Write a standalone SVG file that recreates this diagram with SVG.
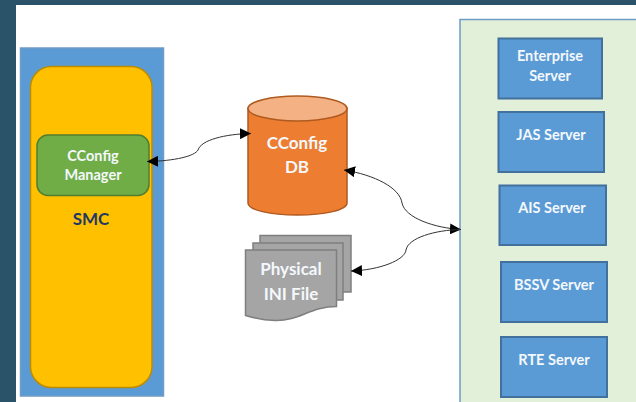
<svg xmlns="http://www.w3.org/2000/svg" width="636" height="402" viewBox="0 0 636 402">
<style>
text{font-family:"Lato","Carlito","Liberation Sans",sans-serif;font-weight:700;text-anchor:middle;fill:#f4f8fc}
.srv{fill:#5b9bd5;stroke:#41719c;stroke-width:2}
.doc{fill:#a5a5a5;stroke:#7f7f7f;stroke-width:1.5}
.c{fill:none;stroke:#333;stroke-width:1}
.s{font-size:14.500px}
.l{font-size:17px}
</style>
<defs>
<marker id="a" viewBox="0 0 10 10" refX="10" refY="5" markerWidth="11" markerHeight="11" markerUnits="userSpaceOnUse" orient="auto-start-reverse"><path d="M0 0L10 5L0 10Z" fill="#000"/></marker>
</defs>
<rect width="636" height="402" fill="#2a5268"/>
<rect x="16" y="5" width="620" height="397" fill="#fff"/>
<g id="smc-outer"><rect x="20.500" y="48" width="143" height="348" fill="#5b9bd5" stroke="#6f9cc4" stroke-width="1.500"/></g>
<g id="smc"><rect x="30.500" y="66.500" width="121.500" height="321" rx="21" fill="#ffc000" stroke="#bc8c00" stroke-width="1.500"/><text x="91" y="225" style="font-size:17px;fill:#1f3864">SMC</text></g>
<g id="cconfig-manager"><rect x="37" y="135" width="112" height="60.500" rx="11" fill="#70ad47" stroke="#507e32" stroke-width="1.500"/><text class="s" x="93" y="161">CConfig</text><text class="s" x="93" y="180">Manager</text></g>
<g id="cconfig-db"><path d="M248 108V203C248 210 270 215 297.500 215S347 210 347 203V108Z" fill="#ed7d31" stroke="#ae5a21" stroke-width="1.500"/><ellipse cx="297.500" cy="108.500" rx="49.500" ry="12.500" fill="#f4b183" stroke="#ae5a21" stroke-width="1.500"/><text class="l" x="297" y="149">CConfig</text><text class="l" x="297" y="173">DB</text></g>
<g id="physical-ini-file">
<path class="doc" d="M260 235.500H351V292H260Z"/>
<path class="doc" d="M253 243H343V300H253Z"/>
<path class="doc" d="M245.500 250H336.500V306.500C310 306.500 300 321 275 320.500C262 320 254 318 245.500 315.500Z"/>
<text class="l" x="291" y="275">Physical</text><text class="l" x="291" y="300">INI File</text></g>
<g id="server-panel"><rect x="460" y="19.500" width="190" height="400" fill="#e2efd9" stroke="#6f9cc4" stroke-width="1.500"/></g>
<g id="enterprise-server"><rect class="srv" x="498.500" y="38.500" width="103.500" height="60"/><text class="s" x="550" y="61">Enterprise</text><text class="s" x="550" y="81">Server</text></g>
<g id="jas-server"><rect class="srv" x="498.500" y="112" width="105.500" height="60"/><text class="s" x="551" y="140">JAS Server</text></g>
<g id="ais-server"><rect class="srv" x="499.500" y="185.500" width="106.500" height="59.500"/><text class="s" x="552" y="213">AIS Server</text></g>
<g id="bssv-server"><rect class="srv" x="501" y="262" width="106" height="60"/><text class="s" x="554" y="290">BSSV Server</text></g>
<g id="rte-server"><rect class="srv" x="501" y="337" width="106" height="60"/><text class="s" x="554" y="365">RTE Server</text></g>
<g id="connectors">
<path class="c" d="M147 161.500C175 161 195 156 198 150C201 140 225 134 251 133.500" marker-start="url(#a)" marker-end="url(#a)"/>
<path class="c" d="M344 170C375 175 400 188 402 203C405 218 435 228 461 229.500" marker-start="url(#a)" marker-end="url(#a)"/>
<path class="c" d="M351 271C380 270 405 260 406 250C408 238 435 230 461 229.500" marker-start="url(#a)"/>
</g>
</svg>
